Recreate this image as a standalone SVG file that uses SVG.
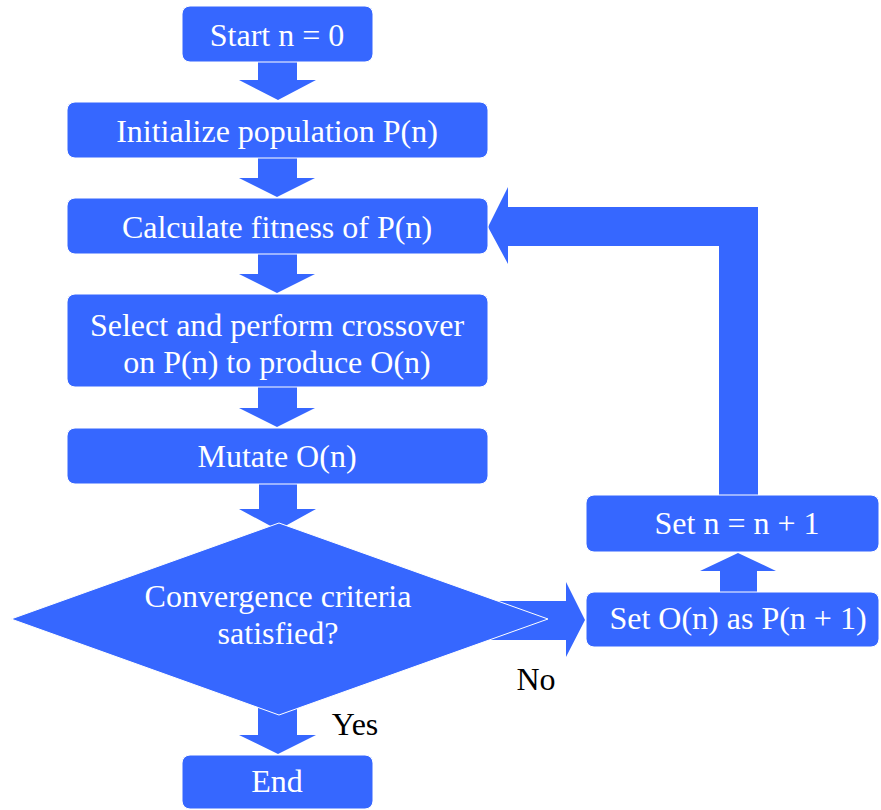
<svg xmlns="http://www.w3.org/2000/svg" width="881" height="810" viewBox="0 0 881 810">
<style>
.n{fill:#3667FF;stroke:#ffffff;stroke-width:1}
.a{fill:#3667FF;stroke:none}
.t{font-family:"Liberation Serif","Times New Roman",serif;font-size:32px;fill:#ffffff;text-anchor:middle}
.l{font-family:"Liberation Serif","Times New Roman",serif;font-size:32px;fill:#000000;text-anchor:middle}
</style>
<rect width="881" height="810" fill="#ffffff"/>
<g id="connectors">
<polygon class="a" points="258,62 297,62 297,80 316,80 278,100 239,80 258,80"/>
<polygon class="a" points="258,158 297,158 297,178 315,178 277,197 239,178 258,178"/>
<polygon class="a" points="258,254 297,254 297,274 315,274 277,293 239,274 258,274"/>
<polygon class="a" points="258,387 297,387 297,408 315,408 277,427 239,408 258,408"/>
<polygon class="a" points="259,484 297,484 297,509 316,509 278,530 239,509 259,509"/>
<polygon class="a" points="258,700 297,700 297,735 316,735 278,754 239,735 258,735"/>
<polygon class="a" points="480,601 566,601 566,582 585,620 566,657 566,640 480,640"/>
<polygon class="a" points="720,592 757,592 757,571 776,571 738,553 700,571 720,571"/>
<polygon class="a" points="719,496 719,246 508,246 508,264 488,227 508,187 508,207 758,207 758,496"/>
</g>
<g id="start"><rect class="n" x="182" y="6" width="191" height="56" rx="8"/><text class="t" x="277" y="46">Start n = 0</text></g>
<g id="init"><rect class="n" x="67" y="102" width="421" height="56" rx="8"/><text class="t" x="277" y="142">Initialize population P(n)</text></g>
<g id="fitness"><rect class="n" x="67" y="198" width="421" height="56" rx="8"/><text class="t" x="277" y="238">Calculate fitness of P(n)</text></g>
<g id="crossover"><rect class="n" x="67" y="294" width="421" height="93" rx="8"/><text class="t" x="277" y="336">Select and perform crossover</text><text class="t" x="277" y="373">on P(n) to produce O(n)</text></g>
<g id="mutate"><rect class="n" x="67" y="428" width="421" height="56" rx="8"/><text class="t" x="277" y="467">Mutate O(n)</text></g>
<g id="decision"><polygon class="n" points="279,523 548,619 279,715 11,619"/><text class="t" x="278" y="607">Convergence criteria</text><text class="t" x="278" y="644">satisfied?</text></g>
<g id="setO"><rect class="n" x="586" y="592" width="293" height="55" rx="8"/><text class="t" x="738" y="629">Set O(n) as P(n + 1)</text></g>
<g id="setn"><rect class="n" x="586" y="495" width="293" height="57" rx="8"/><text class="t" x="737" y="534">Set n = n + 1</text></g>
<g id="end"><rect class="n" x="182" y="755" width="191" height="54" rx="8"/><text class="t" x="277" y="792">End</text></g>
<g id="labels"><text class="l" x="536" y="690">No</text><text class="l" x="355" y="735">Yes</text></g>
</svg>
